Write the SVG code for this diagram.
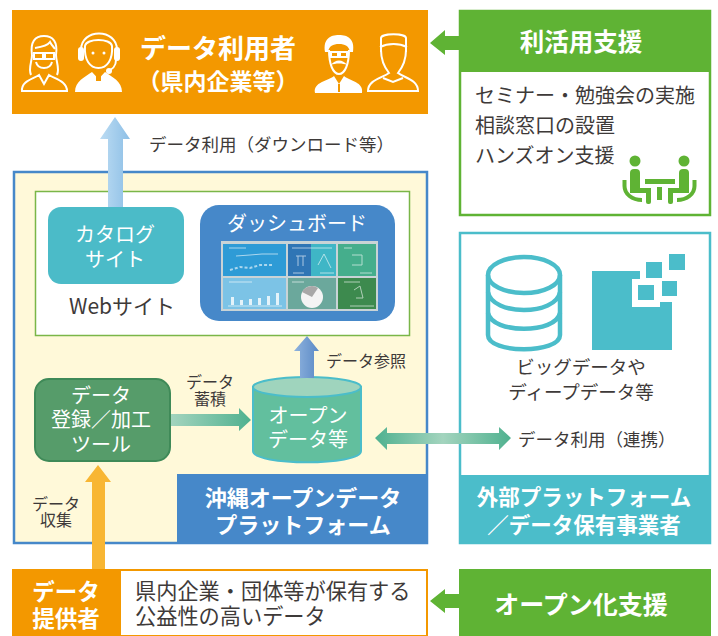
<svg xmlns="http://www.w3.org/2000/svg" width="718" height="636" viewBox="0 0 718 636">
<style>
text{font-family:"Noto Sans CJK JP","Noto Sans",sans-serif;text-anchor:middle;fill:#3e3a39}
.w{fill:#fff}
.b{font-weight:700}
.l{text-anchor:start}
.ic{fill:#fff}
.ol{fill:none;stroke:#fff;stroke-width:2}
</style>
<defs>
<linearGradient id="gBlue" x1="0" x2="1" y1="0" y2="0"><stop offset="0" stop-color="#bcdcf3"/><stop offset="1" stop-color="#8dbfe6"/></linearGradient>
<linearGradient id="gRef" x1="0" x2="1" y1="0" y2="0"><stop offset="0" stop-color="#8fb3de"/><stop offset="1" stop-color="#5b8ac6"/></linearGradient>
<linearGradient id="gGr" x1="0" x2="1" y1="0" y2="0"><stop offset="0" stop-color="#a3d4be"/><stop offset="1" stop-color="#4fb18f"/></linearGradient>
<linearGradient id="gGr3" x1="0" x2="1" y1="0" y2="0"><stop offset="0" stop-color="#4fb18f"/><stop offset="0.5" stop-color="#a3d4be"/><stop offset="1" stop-color="#4fb18f"/></linearGradient>
</defs>

<g id="platform">
<rect x="14" y="172" width="413" height="371" fill="#fff9d9" stroke="#4688c9" stroke-width="2.500"/>
<rect x="177" y="474" width="251" height="70" fill="#4688c9"/>
<text class="w b" font-size="22"><tspan x="303" y="506">沖縄オープンデータ</tspan><tspan x="303" y="533">プラットフォーム</tspan></text>
</g>

<g id="website">
<rect x="35.500" y="191.500" width="374" height="144" fill="#fff" stroke="#7ab648" stroke-width="1.500"/>
<text x="122" y="314" font-size="21" fill="#231815">Webサイト</text>
</g>

<g id="users">
<rect x="12" y="10" width="416" height="104" fill="#f39800"/>
<text class="w b" x="218" y="58" font-size="26">データ利用者</text>
<text class="w b" x="218" y="90" font-size="23">（県内企業等）</text>
<g id="person1">
<path class="ol" d="M32 55 C30 42 35 36 44 36 C53 36 58 42 56 55 C56 62 60 68 57 75 M32 55 C32 62 28 68 31 75"/>
<path class="ol" d="M22 91 C21 81 33 79 39 75 L44 84 L49 75 C55 79 67 81 67 91Z"/>
<path class="ol" stroke-width="1.500" d="M36 62 C38 70 50 70 52 62"/>
<rect class="ol" stroke-width="1.500" x="34" y="53" width="9" height="6"/><rect class="ol" stroke-width="1.500" x="45" y="53" width="9" height="6"/>
<path class="ol" d="M35 48 C42 47 48 45 50 42 C52 46 54 47 55 49"/>
</g>
<g id="person2">
<path class="ol" d="M81 50 C81 28 117 28 117 50"/>
<rect class="ic" x="78" y="47" width="6" height="14" rx="3"/><rect class="ic" x="114" y="47" width="6" height="14" rx="3"/>
<path class="ol" d="M85 46 C86 38 111 38 112 46 C113 60 107 68 98.500 68 C90 68 84 60 85 46Z"/>
<circle class="ic" cx="93" cy="53" r="1.500"/><circle class="ic" cx="104" cy="53" r="1.500"/>
<path class="ic" d="M75 92 C75 81 85 77 92 72 L98.500 79 L105 72 C112 77 122 81 122 92Z"/>
<path class="ol" d="M116 60 C116 66 112 70 107 71"/><circle class="ic" cx="109" cy="71" r="3"/>
<rect x="96" y="73" width="5" height="8" fill="#f39800"/>
</g>
<g id="person3">
<path class="ic" d="M325 52 C323 39 330 35 339 35 C348 35 355 39 353 52 L350 52 C349 46 345 44 339 44 C333 44 329 46 328 52Z"/>
<path class="ol" d="M329 50 C329 64 333 74 339 74 C345 74 349 64 349 50"/>
<rect class="ol" stroke-width="1.500" x="331" y="52" width="7" height="5"/><rect class="ol" stroke-width="1.500" x="340" y="52" width="7" height="5"/>
<path class="ic" d="M331 65 C335 59 343 59 347 65 C343 63 335 63 331 65Z"/>
<path class="ic" d="M315 93 C313 82 328 81 334 76 L339 84 L344 76 C350 81 364 82 362 93Z"/>
<path d="M339 84 V92" stroke="#f39800" stroke-width="2"/>
</g>
<g id="person4">
<path class="ol" d="M381 52 L381 38 C381 33 406 33 406 38 L406 52 M380 47 C388 43 399 43 407 47"/>
<path class="ol" d="M381 50 C381 60 385 68 389 73 C382 78 368 80 368 91 L418 91 C418 80 405 78 398 73 C402 68 406 60 406 50"/>
<path class="ol" d="M383 78 L393 82 L403 78"/>
</g>
</g>

<g id="usage-support">
<rect x="460" y="11" width="250" height="204" fill="#fff" stroke="#5fb334" stroke-width="2.500"/>
<rect x="459" y="10" width="252" height="62" fill="#5fb334"/>
<text class="w b" x="581" y="51" font-size="24.500">利活用支援</text>
<text class="l" font-size="20"><tspan x="475" y="103">セミナー・勉強会の実施</tspan><tspan x="475" y="133">相談窓口の設置</tspan><tspan x="475" y="163">ハンズオン支援</tspan></text>
<g id="meeting" fill="#5fb334">
<circle cx="635" cy="161" r="5.500"/><circle cx="684" cy="161" r="5.500"/>
<rect x="630" y="169" width="10" height="24" rx="4"/>
<rect x="630" y="188" width="21" height="5"/>
<rect x="646" y="188" width="5" height="16" rx="2"/>
<rect x="679" y="169" width="10" height="24" rx="4"/>
<rect x="668" y="188" width="21" height="5"/>
<rect x="668" y="188" width="5" height="16" rx="2"/>
<rect x="645" y="179" width="30" height="5"/>
<rect x="657" y="187" width="5" height="13"/>
<path d="M624.500 180 V186 C624.500 194 632 200 642 200 M694.500 180 V186 C694.500 194 687 200 677 200" fill="none" stroke="#5fb334" stroke-width="4"/>
</g>
</g>

<g id="external">
<rect x="460" y="233" width="250" height="310" fill="#fff" stroke="#4bbdca" stroke-width="2.500"/>
<rect x="459" y="475" width="252" height="69" fill="#4bbdca"/>
<text class="w b" font-size="21.500"><tspan x="584" y="505">外部プラットフォーム</tspan><tspan x="584" y="533">／データ保有事業者</tspan></text>
<g id="cylinder-icon" fill="none" stroke="#4bbdca" stroke-width="4.500">
<ellipse cx="524" cy="275" rx="36" ry="18"/>
<path d="M488 275 V335 C488 354 560 354 560 335 V275"/>
<path d="M488 292 C492 316 556 316 560 292"/>
<path d="M488 313 C492 334 556 334 560 313"/>
</g>
<g id="data-icon" fill="#4bbdca">
<path d="M592 271 H640 V279 H632 V307 H660 V302 H672 V350 H592Z"/>
<rect x="646" y="262" width="16" height="16"/>
<rect x="669" y="254" width="16" height="16"/>
<rect x="638" y="285" width="16" height="15"/>
<rect x="662" y="281" width="15" height="15"/>
</g>
<text x="581" font-size="18.500"><tspan x="581" y="374">ビッグデータや</tspan><tspan x="581" y="399">ディープデータ等</tspan></text>
</g>

<g id="catalog">
<rect x="48" y="207" width="136" height="77" rx="13" fill="#4bbbc8"/>
<text class="w" font-size="20"><tspan x="115" y="242">カタログ</tspan><tspan x="115" y="267">サイト</tspan></text>
</g>

<g id="dashboard">
<rect x="200" y="205" width="195" height="116" rx="19" fill="#4688c9"/>
<text class="w" x="297" y="231" font-size="20">ダッシュボード</text>
<rect x="221" y="241" width="157" height="70" fill="#c9d3d6"/>
<rect x="223" y="244" width="63" height="32" fill="#2e9bd6"/>
<rect x="288" y="244" width="23" height="32" fill="#2f75b5"/>
<rect x="311" y="244" width="25" height="32" fill="#3fb6c6"/>
<rect x="338" y="244" width="38" height="32" fill="#45ae8c"/>
<rect x="223" y="278" width="63" height="31" fill="#7cc3e6"/>
<rect x="288" y="278" width="48" height="31" fill="#6ba89c"/>
<rect x="338" y="278" width="38" height="31" fill="#3d8a4e"/>
<g fill="none" stroke="#fff" stroke-width="1" opacity=".6">
<path d="M229 248 H246 M292 248 H332 M344 248 H352 M229 282 H252 M292 282 H304 M344 282 H360"/>
<path d="M236 256 L250 255 L262 254 L278 254"/>
<path d="M230 270 L240 267 L250 268 L260 265 L272 265" stroke-dasharray="3 2" stroke-width="2"/>
<path d="M296 256 H306 M298 256 V266 M303 256 V266 M293 273 H304 M320 273 H334 M360 273 H372"/>
<path d="M318 265 L324 254 L331 268"/>
<path d="M352 255 H362 V265 H352"/>
<path d="M354 290 L360 286 L363 298 L356 298 M350 306 H374"/>
<path d="M228 306 H282"/>
</g>
<g fill="#fff" opacity=".8">
<rect x="231" y="297" width="3" height="8"/><rect x="240" y="300" width="3" height="5"/><rect x="249" y="299" width="3" height="6"/><rect x="258" y="298" width="3" height="7"/><rect x="267" y="296" width="3" height="9"/><rect x="276" y="293" width="3" height="12"/>
</g>
<circle cx="312" cy="297" r="11" fill="#f4f4f4"/>
<path d="M312 297 L302 292 A11 11 0 0 1 318 288Z" fill="#a8a8a8"/>
</g>

<g id="tool">
<rect x="35" y="379" width="135" height="82" rx="14" fill="#569c6a" stroke="#3f8a58" stroke-width="2"/>
<text class="w" font-size="20"><tspan x="101" y="403">データ</tspan><tspan x="101" y="427">登録／加工</tspan><tspan x="101" y="452">ツール</tspan></text>
</g>

<g id="open-data">
<path d="M253 387 V451 C253 466 361 466 361 451 V387Z" fill="#62bf9e" stroke="#4bbdca" stroke-width="2"/>
<ellipse cx="307" cy="387" rx="54" ry="10" fill="#9fd4bd" stroke="#4bbdca" stroke-width="2"/>
<text class="w" font-size="20"><tspan x="308" y="423">オープン</tspan><tspan x="308" y="447">データ等</tspan></text>
</g>

<g id="provider">
<rect x="13" y="570" width="414" height="66" fill="#fff" stroke="#f39800" stroke-width="2"/>
<rect x="12" y="569" width="109" height="67" fill="#f39800"/>
<text class="w b" font-size="22.500"><tspan x="66" y="600">データ</tspan><tspan x="66" y="627">提供者</tspan></text>
<text class="l" font-size="21.200"><tspan x="135" y="599">県内企業・団体等が保有する</tspan><tspan x="135" y="624">公益性の高いデータ</tspan></text>
</g>

<g id="open-support">
<rect x="459" y="569" width="252" height="67" fill="#5fb334"/>
<text class="w b" x="581" y="614" font-size="25">オープン化支援</text>
</g>

<g id="connectors">
<polygon points="115,117 130,139 123,139 123,207 108,207 108,139 100,139" fill="url(#gBlue)"/>
<polygon points="307,336 319,351 314,351 314,378 300,378 300,351 294,351" fill="url(#gRef)"/>
<polygon points="251,420 239,408 239,414 171,414 171,426 239,426 239,431" fill="url(#gGr)"/>
<polygon points="375,438 387,427 387,433 499,433 499,427 511,438 499,450 499,444 387,444 387,450" fill="url(#gGr3)"/>
<polygon points="98,465 111,482 105,482 105,569 92,569 92,482 85,482" fill="#f8b633"/>
<polygon points="430,43 445,30 445,36 459,36 459,50 445,50 445,55" fill="#5fb334"/>
<polygon points="430,601 445,589 445,594 459,594 459,608 445,608 445,613" fill="#5fb334"/>
</g>

<g id="labels">
<text class="l" x="149" y="151" font-size="17.500">データ利用（ダウンロード等）</text>
<text x="366" y="367" font-size="16">データ参照</text>
<text font-size="16"><tspan x="210" y="388">データ</tspan><tspan x="210" y="405">蓄積</tspan></text>
<text font-size="16"><tspan x="56" y="510">データ</tspan><tspan x="56" y="526">収集</tspan></text>
<text class="l" x="518" y="446" font-size="17.500">データ利用（連携）</text>
</g>
</svg>
